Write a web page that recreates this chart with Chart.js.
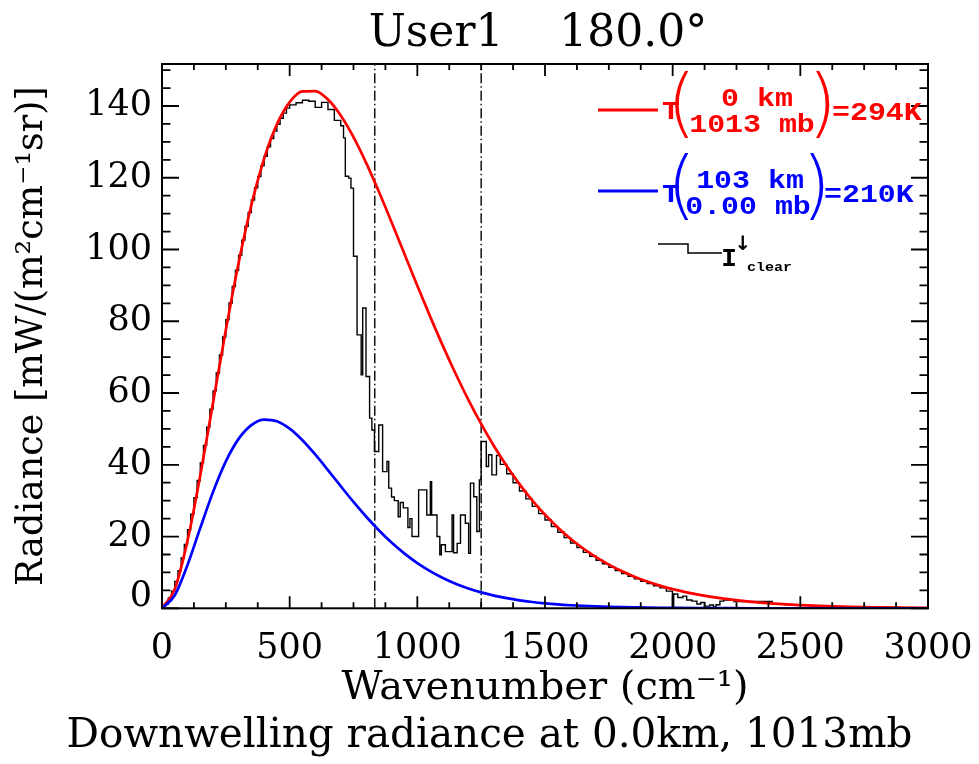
<!DOCTYPE html>
<html>
<head>
<meta charset="utf-8">
<script src="https://cdn.jsdelivr.net/npm/chart.js@4.4.1/dist/chart.umd.min.js"></script>
<style>
  html, body { margin: 0; padding: 0; background: #ffffff; }
  #c { display: block; }
</style>
</head>
<body>
<canvas id="c" width="979" height="764"></canvas>
<script>
// ---- data ----
const wavenumber = [0, 50, 100, 150, 200, 250, 300, 350, 400, 450, 500, 550, 600, 650, 700, 750, 800, 850, 900, 950,
  1000, 1050, 1100, 1150, 1200, 1250, 1300, 1350, 1400, 1450, 1500, 1550, 1600, 1650, 1700, 1750, 1800, 1850, 1900, 1950,
  2000, 2100, 2200, 2300, 2400, 2500, 2600, 2700, 2800, 2900, 3000];

const radiance294K = [0, 5.37, 18.87, 37.10, 57.36, 77.58, 96.25, 112.37, 125.34, 134.91, 141.09, 144.06, 144.16, 141.78,
  137.35, 131.31, 124.07, 116.00, 107.44, 98.67, 89.92, 81.36, 73.15, 65.38, 58.11, 51.40, 45.24, 39.65, 34.62, 30.11,
  26.09, 22.54, 19.40, 16.66, 14.27, 12.18, 10.38, 8.82, 7.48, 6.33, 5.35, 3.80, 2.68, 1.87, 1.31, 0.90, 0.62, 0.43,
  0.29, 0.20, 0.14];

const radiance210K = [0, 3.64, 12.10, 22.40, 32.45, 40.95, 47.22, 51.06, 52.59, 52.12, 50.06, 46.84, 42.88, 38.52,
  34.04, 29.65, 25.51, 21.69, 18.27, 15.24, 12.62, 10.37, 8.46, 6.86, 5.53, 4.44, 3.55, 2.82, 2.23, 1.76, 1.38, 1.08,
  0.85, 0.66, 0.51, 0.40, 0.31, 0.24, 0.18, 0.14, 0.11, 0.06, 0.04, 0.02, 0.01, 0.007, 0.004, 0.002, 0.001, 0.001, 0.0004];

// clear-sky downwelling radiance histogram: bin start wavenumbers and bin values
const clearWn = [0, 12.5, 25, 37.5, 50, 62.5, 75, 87.5, 100, 112.5, 125, 137.5, 150, 162.5, 175, 187.5, 200, 212.5,
  225, 237.5, 250, 262.5, 275, 287.5, 300, 312.5, 325, 337.5, 350, 362.5, 375, 387.5, 400, 412.5, 425, 437.5, 450,
  462.5, 475, 487.5,
  500, 525, 550, 575, 600, 625, 650, 675, 700,
  711, 718, 731, 740, 750, 764, 780, 786, 799, 813, 822, 832, 849, 864, 881, 888, 899, 910, 925, 933,
  945, 963, 971, 979, 1005, 1037, 1051, 1056, 1077, 1088, 1094, 1110, 1136, 1142, 1156, 1169, 1188, 1201, 1208, 1221,
  1233, 1243, 1250, 1270, 1279, 1292,
  1310, 1325, 1350, 1375, 1400, 1425, 1450, 1475, 1500, 1525, 1550, 1575, 1600, 1625, 1650, 1675, 1700, 1725, 1750,
  1775, 1800, 1825, 1850, 1875, 1900, 1925, 1950, 1975,
  1999, 2004, 2020, 2040, 2055, 2075, 2095, 2110, 2125, 2145, 2160, 2170, 2185, 2200, 2240,
  2390, 2440, 2490, 2540, 2590, 2640, 2690, 2740, 2790, 2840, 2890, 2940, 3000];

const clearRadiance = [0.4, 1.2, 2.9, 4.8, 7.5, 10.5, 14.0, 17.8, 21.9, 26.2, 30.8, 35.6, 40.5, 45.4, 50.5, 55.5,
  60.6, 65.6, 70.6, 75.6, 80.4, 85.1, 89.7, 94.2, 98.4, 102.6, 106.5, 110.3, 113.8, 117.2, 120.3, 123.3, 126.0, 128.6,
  130.9, 133.0, 134.9, 136.6, 138.0, 139.4,
  140.3, 140.9, 141.6, 141.3, 139.6, 141.0, 139.0, 136.0, 134.5,
  131.1, 120.4, 119.9, 117.1, 98.1, 76.2, 65.1, 83.7, 64.6, 53.0, 49.7, 43.7, 51.1, 38.1, 40.9, 33.5, 31.0, 30.0, 25.5, 29.5,
  28.0, 22.5, 25.0, 20.0, 33.0, 26.0, 35.3, 26.0, 20.0, 14.9, 17.7, 15.8, 26.0, 15.5, 18.1, 26.0, 23.7, 15.3, 34.9, 31.1,
  21.4, 35.8, 46.5, 39.5, 42.8, 37.2,
  42.6, 40.1, 37.5, 35.0, 32.7, 30.5, 28.4, 26.4, 24.6, 22.8, 21.2, 19.7, 18.2, 16.9, 15.6, 14.5, 13.4, 12.4, 11.4,
  10.5, 9.7, 8.9, 8.2, 7.5, 6.9, 6.3, 5.7, 4.8,
  0.6, 4.0, 3.0, 3.4, 2.3, 2.0, 1.2, 1.6, 0.6, 0.9, 0.4, 1.0, 2.0, 2.3, 1.9,
  1.15, 0.98, 0.82, 0.68, 0.57, 0.47, 0.39, 0.32, 0.26, 0.22, 0.18, 0.15, 0.13];

const windowEdges = [833.3, 1250];          // 12 µm and 8 µm
const xTickValues = [0, 500, 1000, 1500, 2000, 2500, 3000];
const yTickValues = [0, 20, 40, 60, 80, 100, 120, 140];
const xMax = 3000;
const yMax = 151.7;

const chartTitle = 'User1    180.0° ';
const xTitle = 'Wavenumber (cm⁻¹)';
const yTitle = 'Radiance [mW/(m²cm⁻¹sr)]';
const bottomText = 'Downwelling radiance at 0.0km, 1013mb';
const legendRed = ['0 km', '1013 mb', '=294K'];
const legendBlue = ['103 km', '0.00 mb', '=210K'];
const legendClear = ['I', '↓', 'clear'];

// ---- helpers ----
const toXY = (xs, ys) => xs.map((x, i) => ({ x: x, y: ys[i] }));
const SERIF = '"DejaVu Serif", "Liberation Serif", serif';

const frameTicks = {
  id: 'frameTicks',
  afterDatasetsDraw(chart) {
    const { ctx, chartArea: { left, right, top, bottom }, scales: { x, y } } = chart;
    ctx.save();
    ctx.strokeStyle = '#000';
    ctx.lineWidth = 1.8;
    ctx.beginPath();
    for (let v = 0; v <= xMax + 0.01; v += 125) {
      const px = x.getPixelForValue(v);
      const L = xTickValues.includes(v) ? 12 : 6;
      ctx.moveTo(px, bottom); ctx.lineTo(px, bottom - L);
      ctx.moveTo(px, top); ctx.lineTo(px, top + L);
    }
    for (let v = 0; v <= yMax; v += 5) {
      const py = y.getPixelForValue(v);
      const L = yTickValues.includes(v) ? 17 : 8.5;
      ctx.moveTo(left, py); ctx.lineTo(left + L, py);
      ctx.moveTo(right, py); ctx.lineTo(right - L, py);
    }
    ctx.stroke();
    ctx.lineWidth = 2;
    ctx.strokeRect(left, top, right - left, bottom - top);
    ctx.restore();
  }
};

const idlLegend = {
  id: 'idlLegend',
  afterDraw(chart) {
    const { ctx, chartArea: { right: R, top: T } } = chart;
    const mono = (size) => 'bold ' + size + 'px "Liberation Mono", "DejaVu Sans Mono", monospace';
    const txt = (s, x, y, size, color, align, sx) => {
      ctx.save();
      ctx.translate(x, y);
      ctx.scale(sx || 1.15, 1);
      ctx.font = mono(size);
      ctx.fillStyle = color;
      ctx.textAlign = align || 'left';
      ctx.textBaseline = 'middle';
      ctx.fillText(s, 0, 0);
      ctx.restore();
    };
    const paren = (s, x, y, color) => {
      ctx.save();
      ctx.font = '200 74px "DejaVu Sans", sans-serif';
      ctx.fillStyle = color;
      ctx.textAlign = 'left';
      ctx.textBaseline = 'middle';
      ctx.fillText(s, x, y);
      ctx.restore();
    };
    const seg = (pts, color, w) => {
      ctx.save();
      ctx.strokeStyle = color; ctx.lineWidth = w;
      ctx.beginPath();
      pts.forEach((p, i) => i ? ctx.lineTo(p[0], p[1]) : ctx.moveTo(p[0], p[1]));
      ctx.stroke();
      ctx.restore();
    };
    const red = '#ff0000', blue = '#0000ff';
    // red entry
    seg([[R - 330, T + 46], [R - 270, T + 46]], red, 3);
    txt('T', R - 266, T + 48, 26, red);
    paren('(', R - 261, T + 45, red);
    txt(legendRed[0], R - 171, T + 35, 26, red, 'center');
    txt(legendRed[1], R - 176, T + 61, 26, red, 'center');
    paren(')', R - 120, T + 45, red);
    txt(legendRed[2], R - 96, T + 49, 26, red);
    // blue entry
    seg([[R - 330, T + 127], [R - 270, T + 127]], blue, 3);
    txt('T', R - 266, T + 131, 26, blue);
    paren('(', R - 261, T + 127, blue);
    txt(legendBlue[0], R - 178, T + 117, 26, blue, 'center');
    txt(legendBlue[1], R - 180, T + 143, 26, blue, 'center');
    paren(')', R - 126, T + 127, blue);
    txt(legendBlue[2], R - 104, T + 131, 26, blue);
    // clear-sky entry
    seg([[R - 270, T + 180], [R - 240, T + 180], [R - 240, T + 189], [R - 206, T + 189]], '#000', 1.5);
    txt(legendClear[0], R - 199, T + 195, 26, '#000', 'center', 1.0);
    ctx.save();
    ctx.font = 'bold 20px "DejaVu Sans", sans-serif';
    ctx.fillStyle = '#000'; ctx.textAlign = 'center'; ctx.textBaseline = 'middle';
    ctx.fillText(legendClear[1], R - 185, T + 181);
    ctx.restore();
    txt(legendClear[2], R - 181, T + 204, 12, '#000', 'left', 1.25);
  }
};

const datasets = [
  { label: 'T(103 km, 0.00 mb)=210K', data: toXY(wavenumber, radiance210K), borderColor: '#0000ff',
    borderWidth: 2.7, pointRadius: 0, cubicInterpolationMode: 'monotone', order: 1 },
  { label: 'T(0 km, 1013 mb)=294K', data: toXY(wavenumber, radiance294K), borderColor: '#ff0000',
    borderWidth: 2.7, pointRadius: 0, cubicInterpolationMode: 'monotone', order: 2 },
  { label: 'I clear', data: toXY(clearWn, clearRadiance), borderColor: '#000000',
    borderWidth: 1.4, pointRadius: 0, stepped: true, order: 3 }
].concat(windowEdges.map(w => ({
  label: 'window edge', data: [{ x: w, y: 0 }, { x: w, y: yMax }], borderColor: '#000000',
  borderWidth: 1.4, borderDash: [10, 3, 1.5, 3], pointRadius: 0, order: 4
})));

new Chart(document.getElementById('c').getContext('2d'), {
  type: 'line',
  data: { datasets: datasets },
  options: {
    responsive: false,
    animation: false,
    devicePixelRatio: 1,
    events: [],
    layout: { padding: 0 },
    plugins: {
      legend: { display: false },
      tooltip: { enabled: false },
      title: {
        display: true, text: chartTitle, fullSize: false, color: '#000',
        font: { family: SERIF, size: 44, weight: 'normal' },
        padding: { top: 8, bottom: 3.2 }
      },
      subtitle: {
        display: true, text: bottomText, position: 'bottom', color: '#000',
        font: { family: SERIF, size: 40.5, weight: 'normal' },
        padding: { top: 0, bottom: 3 }
      }
    },
    scales: {
      x: {
        type: 'linear', min: 0, max: xMax,
        grid: { display: false, drawTicks: false },
        border: { display: false },
        afterBuildTicks: s => { s.ticks = xTickValues.map(v => ({ value: v })); },
        afterFit: s => { s.height = 764 - 608.3 - 51.6; },
        ticks: {
          color: '#000', padding: 0, maxRotation: 0, autoSkip: false,
          font: { family: SERIF, size: 35, lineHeight: 82 / 35 },
          callback: v => String(v)
        },
        title: {
          display: true, text: xTitle, color: '#000',
          font: { family: SERIF, size: 40 }, padding: { top: 0, bottom: 0 }
        }
      },
      y: {
        type: 'linear', min: 0, max: yMax,
        grid: { display: false, drawTicks: false },
        border: { display: false },
        afterBuildTicks: s => { s.ticks = yTickValues.map(v => ({ value: v })); },
        afterFit: s => { s.width = 162; },
        ticks: {
          color: '#000', padding: 10, autoSkip: false,
          font: c => ({ family: SERIF, size: 35, lineHeight: c.index === 0 ? 0.63 : 1.2 }),
          callback: v => (v === 0 ? ['0', ''] : String(v))
        },
        title: {
          display: true, text: yTitle, color: '#000',
          font: { family: SERIF, size: 36.5 }, padding: { top: 11, bottom: 0 }
        }
      },
      yRight: {
        type: 'linear', position: 'right', min: 0, max: yMax,
        grid: { display: false, drawTicks: false },
        border: { display: false },
        ticks: { display: false },
        afterFit: s => { s.width = 51; }
      }
    }
  },
  plugins: [frameTicks, idlLegend]
});
</script>
</body>
</html>
